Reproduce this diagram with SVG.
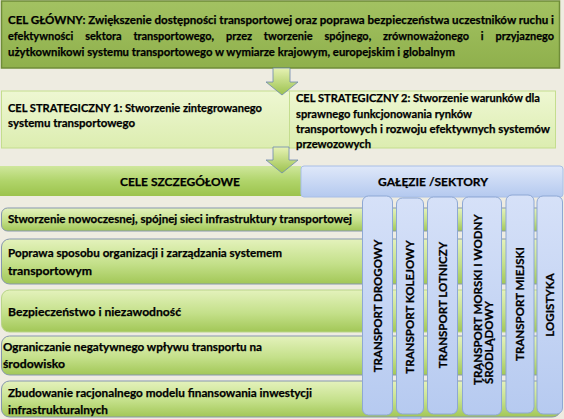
<svg xmlns="http://www.w3.org/2000/svg" width="564" height="419" viewBox="0 0 564 419">
<defs>
<linearGradient id="gMain" x1="0" y1="0" x2="0" y2="1"><stop offset="0" stop-color="#A3C262"/><stop offset="1" stop-color="#8FB04C"/></linearGradient>
<linearGradient id="gStrat" x1="0" y1="0" x2="0" y2="1"><stop offset="0" stop-color="#EEF7D2"/><stop offset="1" stop-color="#DCEDB0"/></linearGradient>
<linearGradient id="gArrow" x1="0" y1="0" x2="0" y2="1"><stop offset="0" stop-color="#E6F2B4"/><stop offset="1" stop-color="#9CC24E"/></linearGradient>
<linearGradient id="gCele" x1="0" y1="0" x2="0" y2="1"><stop offset="0" stop-color="#CFE79C"/><stop offset="0.5" stop-color="#B0D46A"/><stop offset="1" stop-color="#9CC34C"/></linearGradient>
<linearGradient id="gBlue" x1="0" y1="0" x2="0" y2="1"><stop offset="0" stop-color="#DFE8F9"/><stop offset="1" stop-color="#B4C9EF"/></linearGradient>
<linearGradient id="gCol" x1="0" y1="0" x2="0" y2="1"><stop offset="0" stop-color="#D6E1F8"/><stop offset="1" stop-color="#B6CAF0"/></linearGradient>
<linearGradient id="gRow" x1="0" y1="0" x2="0" y2="1"><stop offset="0" stop-color="#E4F2BC"/><stop offset="0.55" stop-color="#C4E08A"/><stop offset="1" stop-color="#A2C757"/></linearGradient>
</defs>
<style>
text{font-family:"Lato","Liberation Sans",sans-serif;font-weight:bold;fill:#000;stroke:#000;stroke-width:0.25;}
.t12{font-size:12px;}
.t11{font-size:11.5px;}
.v{font-size:11.5px;}
.main{fill:url(#gMain);stroke:#6F8C38;stroke-width:1.5;}
.strat{fill:url(#gStrat);stroke:#C4DD8E;stroke-width:1;}
.arrow{fill:url(#gArrow);stroke:#6D89AE;stroke-width:0.8;}
.row{fill:url(#gRow);stroke:#8797AE;stroke-width:1;}
.col{fill:url(#gCol);stroke:#8EA8D4;stroke-width:1;}
</style>
<rect x="0" y="0" width="564" height="419" fill="#EEECE1"/>

<g id="cel-glowny">
<rect class="main" x="1.5" y="1" width="558" height="67"/>
<text class="t12" x="8" y="24" textLength="546" lengthAdjust="spacingAndGlyphs">CEL GŁÓWNY: Zwiększenie dostępności transportowej oraz poprawa bezpieczeństwa uczestników ruchu i</text>
<text class="t12" x="8" y="40" word-spacing="10" textLength="546" lengthAdjust="spacingAndGlyphs">efektywności sektora transportowego, przez tworzenie spójnego, zrównoważonego i przyjaznego</text>
<text class="t12" x="8" y="56" textLength="447" lengthAdjust="spacingAndGlyphs">użytkownikowi systemu transportowego w wymiarze krajowym, europejskim i globalnym</text>
</g>

<g id="cel-strategiczny-1">
<rect class="strat" x="1.5" y="91" width="288" height="57"/>
<text class="t11" x="8" y="112" textLength="254" lengthAdjust="spacingAndGlyphs">CEL STRATEGICZNY 1: Stworzenie zintegrowanego</text>
<text class="t11" x="8" y="127" textLength="127" lengthAdjust="spacingAndGlyphs">systemu transportowego</text>
</g>

<g id="cel-strategiczny-2">
<rect class="strat" x="289.5" y="91" width="266" height="57"/>
<text class="t11" x="296" y="102" textLength="244" lengthAdjust="spacingAndGlyphs">CEL STRATEGICZNY 2: Stworzenie warunków dla</text>
<text class="t11" x="296" y="118" textLength="176" lengthAdjust="spacingAndGlyphs">sprawnego funkcjonowania rynków</text>
<text class="t11" x="296" y="133" textLength="254" lengthAdjust="spacingAndGlyphs">transportowych i rozwoju efektywnych systemów</text>
<text class="t11" x="296" y="148" textLength="75" lengthAdjust="spacingAndGlyphs">przewozowych</text>
</g>

<g id="cele-szczegolowe">
<rect x="0" y="166" width="301" height="30" fill="url(#gCele)"/>
<text class="t12" x="180" y="186" text-anchor="middle">CELE SZCZEGÓŁOWE</text>
</g>

<g id="galezie-sektory">
<rect x="301" y="166" width="262" height="31" rx="3" fill="url(#gBlue)" stroke="#A8BEE6" stroke-width="1"/>
<text class="t12" x="433" y="186" text-anchor="middle">GAŁĘZIE /SEKTORY</text>
</g>

<g id="connectors">
<path class="arrow" d="M273,68 H290 V82 H298 L282,95 L266,82 H273 Z"/>
<path class="arrow" d="M273,147 H289 V160 H298 L282,173 L266,160 H273 Z"/>
</g>

<g id="cel-1">
<rect class="row" x="1.5" y="208" width="559" height="23" rx="6"/>
<text class="t11" x="8" y="223" textLength="344" lengthAdjust="spacingAndGlyphs">Stworzenie nowoczesnej, spójnej sieci infrastruktury transportowej</text>
</g>
<g id="cel-2">
<rect class="row" x="1.5" y="239" width="559" height="45" rx="8"/>
<text class="t11" x="8" y="257" textLength="274" lengthAdjust="spacingAndGlyphs">Poprawa sposobu organizacji i zarządzania systemem</text>
<text class="t11" x="8" y="275" textLength="84" lengthAdjust="spacingAndGlyphs">transportowym</text>
</g>
<g id="cel-3">
<rect class="row" x="1.5" y="290" width="559" height="42" rx="8" style="stroke:#B9D48A"/>
<text class="t11" x="8" y="316" textLength="173" lengthAdjust="spacingAndGlyphs">Bezpieczeństwo i niezawodność</text>
</g>
<g id="cel-4">
<rect class="row" x="1.5" y="336" width="559" height="39" rx="8"/>
<text class="t11" x="3" y="351" textLength="259" lengthAdjust="spacingAndGlyphs">Ograniczanie negatywnego wpływu transportu na</text>
<text class="t11" x="3" y="368" textLength="62" lengthAdjust="spacingAndGlyphs">środowisko</text>
</g>
<g id="cel-5">
<rect class="row" x="1.5" y="381" width="559" height="36" rx="8"/>
<text class="t11" x="8" y="397" textLength="304" lengthAdjust="spacingAndGlyphs">Zbudowanie racjonalnego modelu finansowania inwestycji</text>
<text class="t11" x="8" y="414" textLength="100" lengthAdjust="spacingAndGlyphs">infrastrukturalnych</text>
</g>

<rect x="398" y="417" width="23" height="4" fill="#B6CAF0" stroke="#8EA8D4" stroke-width="0.8"/>

<g id="transport-drogowy">
<rect class="col" x="362.5" y="196" width="30" height="219" rx="6"/>
<text class="v" transform="translate(381.5,306) rotate(-90)" text-anchor="middle">TRANSPORT DROGOWY</text>
</g>
<g id="transport-kolejowy">
<rect class="col" x="396.5" y="198" width="27" height="216" rx="6"/>
<text class="v" transform="translate(414,307) rotate(-90)" text-anchor="middle">TRANSPORT KOLEJOWY</text>
</g>
<g id="transport-lotniczy">
<rect class="col" x="427.5" y="197" width="30" height="217" rx="6"/>
<text class="v" transform="translate(446.5,305) rotate(-90)" text-anchor="middle">TRANSPORT LOTNICZY</text>
</g>
<g id="transport-morski">
<rect class="col" x="462.5" y="197" width="39" height="218" rx="6"/>
<text class="v" transform="translate(482,385) rotate(-90)">TRANSPORT MORSKI I WODNY</text>
<text class="v" transform="translate(493,384) rotate(-90)">ŚRÓDLĄDOWY</text>
</g>
<g id="transport-miejski">
<rect class="col" x="506" y="195" width="28" height="218" rx="6"/>
<text class="v" transform="translate(524,304) rotate(-90)" text-anchor="middle">TRANSPORT MIEJSKI</text>
</g>
<g id="logistyka">
<rect class="col" x="537" y="196" width="25.5" height="218" rx="6"/>
<text class="v" transform="translate(553.5,305) rotate(-90)" text-anchor="middle">LOGISTYKA</text>
</g>
</svg>
